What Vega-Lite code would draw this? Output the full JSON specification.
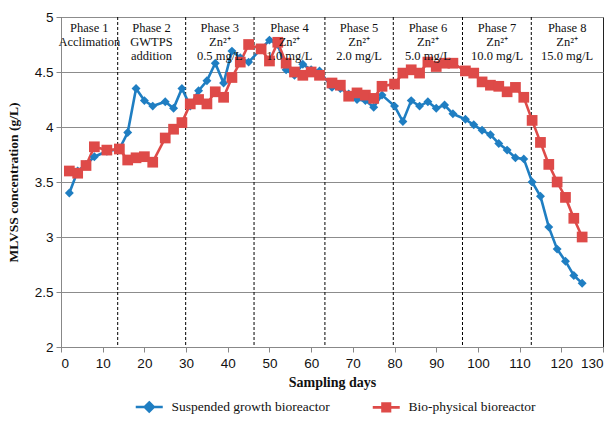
{
  "$schema": "https://vega.github.io/schema/vega-lite/v6.json",
  "autosize": {"type": "none"},
  "padding": {"left": 61, "top": 17, "right": 12, "bottom": 75},
  "width": 542,
  "height": 330,
  "config": {
    "view": {"stroke": "#222", "strokeWidth": 1},
    "font": "Liberation Serif",
    "text": {"lineBreak": "\n"},
    "legend": {"labelFont": "Liberation Serif", "labelFontSize": 13.5, "labelColor": "#111", "labelOffset": 15.5, "columnPadding": 37, "symbolSize": 100}
  },
  "datasets": {
    "mlvss": [
      {"day": 2, "series": "Suspended growth bioreactor", "value": 3.40},
      {"day": 4, "series": "Suspended growth bioreactor", "value": 3.60},
      {"day": 6, "series": "Suspended growth bioreactor", "value": 3.66},
      {"day": 8, "series": "Suspended growth bioreactor", "value": 3.73},
      {"day": 11, "series": "Suspended growth bioreactor", "value": 3.78},
      {"day": 14, "series": "Suspended growth bioreactor", "value": 3.80},
      {"day": 16, "series": "Suspended growth bioreactor", "value": 3.95},
      {"day": 18, "series": "Suspended growth bioreactor", "value": 4.35},
      {"day": 20, "series": "Suspended growth bioreactor", "value": 4.24},
      {"day": 22, "series": "Suspended growth bioreactor", "value": 4.19},
      {"day": 25, "series": "Suspended growth bioreactor", "value": 4.23},
      {"day": 27, "series": "Suspended growth bioreactor", "value": 4.17},
      {"day": 29, "series": "Suspended growth bioreactor", "value": 4.35},
      {"day": 31, "series": "Suspended growth bioreactor", "value": 4.19},
      {"day": 33, "series": "Suspended growth bioreactor", "value": 4.33},
      {"day": 35, "series": "Suspended growth bioreactor", "value": 4.42},
      {"day": 37, "series": "Suspended growth bioreactor", "value": 4.58},
      {"day": 39, "series": "Suspended growth bioreactor", "value": 4.40},
      {"day": 41, "series": "Suspended growth bioreactor", "value": 4.69},
      {"day": 43, "series": "Suspended growth bioreactor", "value": 4.63},
      {"day": 45, "series": "Suspended growth bioreactor", "value": 4.59},
      {"day": 48, "series": "Suspended growth bioreactor", "value": 4.71},
      {"day": 50, "series": "Suspended growth bioreactor", "value": 4.79},
      {"day": 52, "series": "Suspended growth bioreactor", "value": 4.75},
      {"day": 54, "series": "Suspended growth bioreactor", "value": 4.52},
      {"day": 56, "series": "Suspended growth bioreactor", "value": 4.47},
      {"day": 58, "series": "Suspended growth bioreactor", "value": 4.57},
      {"day": 60, "series": "Suspended growth bioreactor", "value": 4.52},
      {"day": 62, "series": "Suspended growth bioreactor", "value": 4.51},
      {"day": 65, "series": "Suspended growth bioreactor", "value": 4.36},
      {"day": 67, "series": "Suspended growth bioreactor", "value": 4.35},
      {"day": 69, "series": "Suspended growth bioreactor", "value": 4.30},
      {"day": 71, "series": "Suspended growth bioreactor", "value": 4.25},
      {"day": 73, "series": "Suspended growth bioreactor", "value": 4.24},
      {"day": 75, "series": "Suspended growth bioreactor", "value": 4.18},
      {"day": 77, "series": "Suspended growth bioreactor", "value": 4.29},
      {"day": 80, "series": "Suspended growth bioreactor", "value": 4.19},
      {"day": 82, "series": "Suspended growth bioreactor", "value": 4.05},
      {"day": 84, "series": "Suspended growth bioreactor", "value": 4.24},
      {"day": 86, "series": "Suspended growth bioreactor", "value": 4.19},
      {"day": 88, "series": "Suspended growth bioreactor", "value": 4.23},
      {"day": 90, "series": "Suspended growth bioreactor", "value": 4.17},
      {"day": 92, "series": "Suspended growth bioreactor", "value": 4.20},
      {"day": 94, "series": "Suspended growth bioreactor", "value": 4.12},
      {"day": 97, "series": "Suspended growth bioreactor", "value": 4.07},
      {"day": 99, "series": "Suspended growth bioreactor", "value": 4.02},
      {"day": 101, "series": "Suspended growth bioreactor", "value": 3.97},
      {"day": 103, "series": "Suspended growth bioreactor", "value": 3.93},
      {"day": 105, "series": "Suspended growth bioreactor", "value": 3.85},
      {"day": 107, "series": "Suspended growth bioreactor", "value": 3.79},
      {"day": 109, "series": "Suspended growth bioreactor", "value": 3.72},
      {"day": 111, "series": "Suspended growth bioreactor", "value": 3.71},
      {"day": 113, "series": "Suspended growth bioreactor", "value": 3.50},
      {"day": 115, "series": "Suspended growth bioreactor", "value": 3.37},
      {"day": 117, "series": "Suspended growth bioreactor", "value": 3.09},
      {"day": 119, "series": "Suspended growth bioreactor", "value": 2.89},
      {"day": 121, "series": "Suspended growth bioreactor", "value": 2.78},
      {"day": 123, "series": "Suspended growth bioreactor", "value": 2.65},
      {"day": 125, "series": "Suspended growth bioreactor", "value": 2.58},
      {"day": 2, "series": "Bio-physical bioreactor", "value": 3.60},
      {"day": 4, "series": "Bio-physical bioreactor", "value": 3.58},
      {"day": 6, "series": "Bio-physical bioreactor", "value": 3.65},
      {"day": 8, "series": "Bio-physical bioreactor", "value": 3.82},
      {"day": 11, "series": "Bio-physical bioreactor", "value": 3.79},
      {"day": 14, "series": "Bio-physical bioreactor", "value": 3.80},
      {"day": 16, "series": "Bio-physical bioreactor", "value": 3.70},
      {"day": 18, "series": "Bio-physical bioreactor", "value": 3.72},
      {"day": 20, "series": "Bio-physical bioreactor", "value": 3.73},
      {"day": 22, "series": "Bio-physical bioreactor", "value": 3.68},
      {"day": 25, "series": "Bio-physical bioreactor", "value": 3.90},
      {"day": 27, "series": "Bio-physical bioreactor", "value": 3.98},
      {"day": 29, "series": "Bio-physical bioreactor", "value": 4.04},
      {"day": 31, "series": "Bio-physical bioreactor", "value": 4.21},
      {"day": 33, "series": "Bio-physical bioreactor", "value": 4.25},
      {"day": 35, "series": "Bio-physical bioreactor", "value": 4.21},
      {"day": 37, "series": "Bio-physical bioreactor", "value": 4.32},
      {"day": 39, "series": "Bio-physical bioreactor", "value": 4.27},
      {"day": 41, "series": "Bio-physical bioreactor", "value": 4.45},
      {"day": 43, "series": "Bio-physical bioreactor", "value": 4.59},
      {"day": 45, "series": "Bio-physical bioreactor", "value": 4.75},
      {"day": 48, "series": "Bio-physical bioreactor", "value": 4.71},
      {"day": 50, "series": "Bio-physical bioreactor", "value": 4.60},
      {"day": 52, "series": "Bio-physical bioreactor", "value": 4.77},
      {"day": 54, "series": "Bio-physical bioreactor", "value": 4.58},
      {"day": 56, "series": "Bio-physical bioreactor", "value": 4.50},
      {"day": 58, "series": "Bio-physical bioreactor", "value": 4.47},
      {"day": 60, "series": "Bio-physical bioreactor", "value": 4.50},
      {"day": 62, "series": "Bio-physical bioreactor", "value": 4.47},
      {"day": 65, "series": "Bio-physical bioreactor", "value": 4.40},
      {"day": 67, "series": "Bio-physical bioreactor", "value": 4.38},
      {"day": 69, "series": "Bio-physical bioreactor", "value": 4.28},
      {"day": 71, "series": "Bio-physical bioreactor", "value": 4.31},
      {"day": 73, "series": "Bio-physical bioreactor", "value": 4.29},
      {"day": 75, "series": "Bio-physical bioreactor", "value": 4.26},
      {"day": 77, "series": "Bio-physical bioreactor", "value": 4.37},
      {"day": 80, "series": "Bio-physical bioreactor", "value": 4.39},
      {"day": 82, "series": "Bio-physical bioreactor", "value": 4.49},
      {"day": 84, "series": "Bio-physical bioreactor", "value": 4.52},
      {"day": 86, "series": "Bio-physical bioreactor", "value": 4.49},
      {"day": 88, "series": "Bio-physical bioreactor", "value": 4.59},
      {"day": 90, "series": "Bio-physical bioreactor", "value": 4.55},
      {"day": 92, "series": "Bio-physical bioreactor", "value": 4.58},
      {"day": 94, "series": "Bio-physical bioreactor", "value": 4.58},
      {"day": 97, "series": "Bio-physical bioreactor", "value": 4.51},
      {"day": 99, "series": "Bio-physical bioreactor", "value": 4.49},
      {"day": 101, "series": "Bio-physical bioreactor", "value": 4.41},
      {"day": 103, "series": "Bio-physical bioreactor", "value": 4.38},
      {"day": 105, "series": "Bio-physical bioreactor", "value": 4.37},
      {"day": 107, "series": "Bio-physical bioreactor", "value": 4.32},
      {"day": 109, "series": "Bio-physical bioreactor", "value": 4.36},
      {"day": 111, "series": "Bio-physical bioreactor", "value": 4.27},
      {"day": 113, "series": "Bio-physical bioreactor", "value": 4.06},
      {"day": 115, "series": "Bio-physical bioreactor", "value": 3.86},
      {"day": 117, "series": "Bio-physical bioreactor", "value": 3.66},
      {"day": 119, "series": "Bio-physical bioreactor", "value": 3.50},
      {"day": 121, "series": "Bio-physical bioreactor", "value": 3.36},
      {"day": 123, "series": "Bio-physical bioreactor", "value": 3.17},
      {"day": 125, "series": "Bio-physical bioreactor", "value": 3.00}
    ],
    "phases": [
      {"phase": "Phase 1", "end": 13.6, "center": 6.8, "label": "Phase 1\nAcclimation"},
      {"phase": "Phase 2", "end": 29.9, "center": 21.7, "label": "Phase 2\nGWTPS\naddition"},
      {"phase": "Phase 3", "end": 46.3, "center": 38.1, "label": "Phase 3\nZn²⁺\n0.5 mg/L"},
      {"phase": "Phase 4", "end": 63.3, "center": 54.8, "label": "Phase 4\nZn²⁺\n1.0 mg/L"},
      {"phase": "Phase 5", "end": 79.7, "center": 71.5, "label": "Phase 5\nZn²⁺\n2.0 mg/L"},
      {"phase": "Phase 6", "end": 96.3, "center": 88.0, "label": "Phase 6\nZn²⁺\n5.0 mg/L"},
      {"phase": "Phase 7", "end": 112.8, "center": 104.6, "label": "Phase 7\nZn²⁺\n10.0 mg/L"},
      {"phase": "Phase 8", "end": 130, "center": 121.4, "label": "Phase 8\nZn²⁺\n15.0 mg/L"}
    ]
  },
  "layer": [
    {
      "data": {"name": "phases"},
      "transform": [{"filter": "datum.end < 130"}],
      "mark": {"type": "rule", "color": "#000", "strokeWidth": 1, "strokeDash": [3, 2]},
      "encoding": {
        "x": {"field": "end", "type": "quantitative", "scale": {"domain": [0, 130]}}
      }
    },
    {
      "data": {"name": "mlvss"},
      "mark": {"type": "line", "strokeWidth": 2.6},
      "encoding": {
        "x": {"field": "day", "type": "quantitative", "scale": {"domain": [0, 130]},
          "axis": {"title": "Sampling days", "values": [0,10,20,30,40,50,60,70,80,90,100,110,120,130], "grid": false,
            "domainColor": "#888", "tickColor": "#888", "tickSize": 5, "labelFont": "Liberation Sans", "labelFontSize": 13.5, "labelColor": "#111", "labelPadding": 4,
            "titleFont": "Liberation Serif", "titleFontSize": 14, "titleFontWeight": "bold", "titleColor": "#111", "titlePadding": 6}},
        "y": {"field": "value", "type": "quantitative", "scale": {"domain": [2, 5]},
          "axis": {"title": "MLVSS concentration (g/L)", "values": [2, 2.5, 3, 3.5, 4, 4.5, 5], "format": "~g", "grid": true, "gridColor": "#8c8c8c", "gridWidth": 1,
            "domainColor": "#888", "tickColor": "#888", "tickSize": 5, "labelFont": "Liberation Sans", "labelFontSize": 13.5, "labelColor": "#111", "labelPadding": 3,
            "titleFont": "Liberation Serif", "titleFontSize": 13.5, "titleFontWeight": "bold", "titleColor": "#111", "titlePadding": 14}},
        "color": {"field": "series", "type": "nominal",
          "scale": {"domain": ["Suspended growth bioreactor", "Bio-physical bioreactor"], "range": ["#1F7EC2", "#DE4A48"]},
          "legend": {"title": null, "orient": "none", "legendX": 81.5, "legendY": 383, "direction": "horizontal",
            "labelFont": "Liberation Serif", "labelFontSize": 13.5, "labelColor": "#111", "labelOffset": 15.5, "columnPadding": 37,
            "symbolSize": 100,
            "encode": {
              "symbols": {"update": {
                "shape": {"signal": "datum.value === 'Suspended growth bioreactor' ? 'M-2.7,0L2.7,0M0,-0.9L0.9,0L0,0.9L-0.9,0Z' : 'M-2.7,0L2.7,0M-0.75,-0.75L0.75,-0.75L0.75,0.75L-0.75,0.75Z'"},
                "strokeWidth": {"value": 2.6},
                "size": {"value": 100}
              }},
              "labels": {"update": {"font": {"value": "Liberation Serif"}, "fontSize": {"value": 13.5}}}
            }}}
      }
    },
    {
      "data": {"name": "mlvss"},
      "transform": [{"filter": "datum.series === 'Suspended growth bioreactor'"}],
      "mark": {"type": "point", "filled": true, "opacity": 1, "shape": "diamond", "size": 80},
      "encoding": {
        "x": {"field": "day", "type": "quantitative"},
        "y": {"field": "value", "type": "quantitative"},
        "color": {"field": "series", "type": "nominal"}
      }
    },
    {
      "data": {"name": "mlvss"},
      "transform": [{"filter": "datum.series === 'Bio-physical bioreactor'"}],
      "mark": {"type": "point", "filled": true, "opacity": 1, "shape": "square", "size": 115},
      "encoding": {
        "x": {"field": "day", "type": "quantitative"},
        "y": {"field": "value", "type": "quantitative"},
        "color": {"field": "series", "type": "nominal"}
      }
    },
    {
      "data": {"name": "phases"},
      "mark": {"type": "text", "baseline": "top", "align": "center", "font": "Liberation Serif", "fontSize": 12.5, "lineHeight": 14, "color": "#111", "dy": 5},
      "encoding": {
        "x": {"field": "center", "type": "quantitative"},
        "y": {"datum": 5},
        "text": {"field": "label"}
      }
    }
  ]
}
